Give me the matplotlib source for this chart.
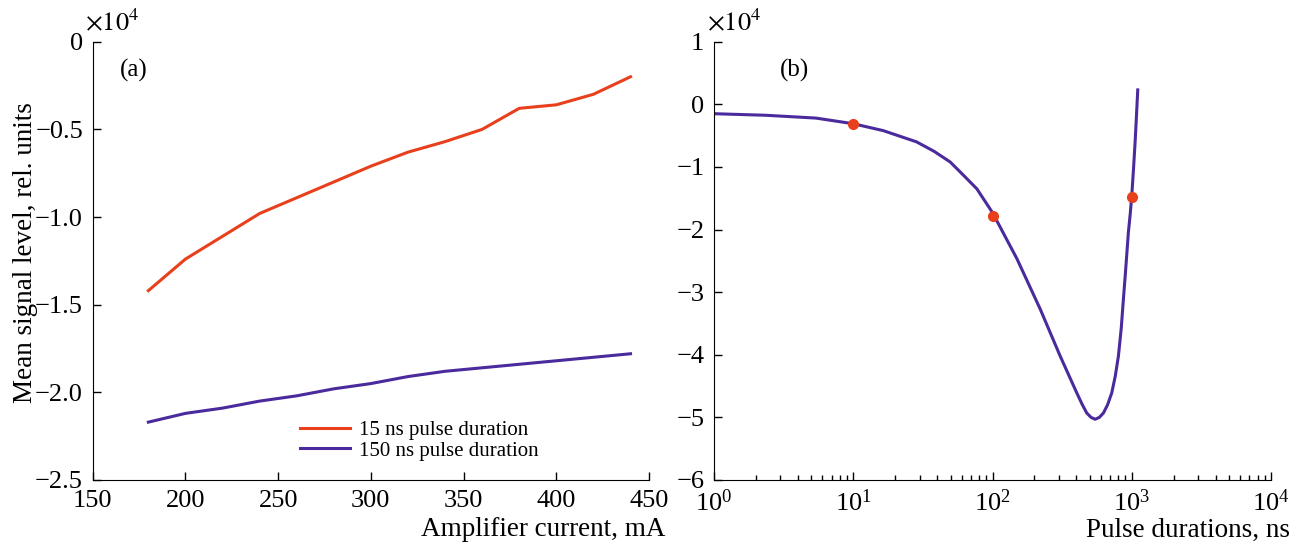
import matplotlib
matplotlib.use("Agg")
import matplotlib.pyplot as plt
from matplotlib.ticker import FuncFormatter, LogLocator

plt.rcParams['font.family'] = ['Liberation Serif', 'DejaVu Serif']
plt.rcParams['mathtext.fontset'] = 'stix'

# panel (a): mean signal level (x1e4) vs amplifier current
current_mA = [180, 200, 220, 240, 260, 280, 300, 320, 340, 360, 380, 400, 420, 440]
level_15ns = [-1.42, -1.24, -1.11, -0.98, -0.89, -0.80, -0.71, -0.63, -0.57, -0.50,
              -0.38, -0.36, -0.30, -0.20]
level_150ns = [-2.17, -2.12, -2.09, -2.05, -2.02, -1.98, -1.95, -1.91, -1.88, -1.86,
               -1.84, -1.82, -1.80, -1.78]

# panel (b): fitted curve and measured points (x1e4) vs pulse duration
fit_ns = [1, 2.36, 5.4, 10, 16.4, 28.5, 38, 49.6, 58.6, 77.2, 100, 150, 220, 306, 403,
          440, 475, 510, 546, 585, 626, 670, 718, 760, 802, 840, 871, 900, 946, 975,
          1000, 1030, 1057, 1080, 1104]
fit_level = [-0.15, -0.175, -0.22, -0.31, -0.42, -0.60, -0.75, -0.92, -1.08, -1.35,
             -1.73, -2.47, -3.27, -4.02, -4.61, -4.79, -4.93, -5.00, -5.03, -5.00,
             -4.93, -4.80, -4.61, -4.35, -4.02, -3.58, -3.11, -2.70, -2.04, -1.75,
             -1.46, -1.02, -0.60, -0.20, 0.23]
meas_ns = [10, 100, 1000]
meas_level = [-0.32, -1.78, -1.48]

orange = '#e8401c'
purple = '#4a2a9c'

fig = plt.figure(figsize=(13.02, 5.48), dpi=100)
ax1 = fig.add_axes([0.0712, 0.1241, 0.4273, 0.7998])
ax2 = fig.add_axes([0.5484, 0.1241, 0.4278, 0.7998])

for ax in (ax1, ax2):
    ax.spines['top'].set_visible(False)
    ax.spines['right'].set_visible(False)
    ax.tick_params(direction='in', length=5.5, width=1, labelsize=19, pad=7)
    ax.tick_params(which='minor', direction='in', length=3.6, width=1)

ax1.plot(current_mA, level_15ns, color=orange, lw=2.2, label='15 ns pulse duration')
ax1.plot(current_mA, level_150ns, color=purple, lw=2.2, label='150 ns pulse duration')
ax1.set_xlim(150, 450)
ax1.set_ylim(-2.5, 0)
ax1.set_xticks([150, 200, 250, 300, 350, 400, 450])
ax1.set_yticks([0, -0.5, -1.0, -1.5, -2.0, -2.5])
ax1.yaxis.set_major_formatter(FuncFormatter(
    lambda v, p: '0' if v == 0 else ('%.1f' % v).replace('-', '\u2212')))
ax1.set_ylabel('Mean signal level, rel. units', fontsize=19.5)
ax1.yaxis.set_label_coords(-0.099, 0.52)
ax1.text(1.029, -0.114, 'Amplifier current, mA', transform=ax1.transAxes,
         ha='right', va='center', fontsize=19.5)
ax1.text(0.049, 0.935, '(a)', transform=ax1.transAxes, fontsize=18, va='center')
ax1.text(-0.013, 1.027, r'$\times10^4$', transform=ax1.transAxes, fontsize=19, va='baseline')
ax1.legend(loc='center left', bbox_to_anchor=(0.373, 0.09), frameon=False, fontsize=15,
           handlelength=2.4, handletextpad=0.43, labelspacing=0.05,
           borderpad=0, borderaxespad=0)

ax2.plot(fit_ns, fit_level, color=purple, lw=2.2, zorder=2)
ax2.plot(meas_ns, meas_level, 'o', color=orange, ms=7, zorder=3)
ax2.set_xscale('log')
ax2.set_xlim(1, 1e4)
ax2.set_ylim(-6, 1)
ax2.set_yticks(range(-6, 2))
ax2.yaxis.set_major_formatter(FuncFormatter(lambda v, p: ('%d' % v).replace('-', '\u2212')))
ax2.xaxis.set_minor_locator(LogLocator(base=10, subs=range(2, 10), numticks=20))
ax2.text(1.034, -0.114, 'Pulse durations, ns', transform=ax2.transAxes,
         ha='right', va='center', fontsize=19.5)
ax2.text(0.118, 0.935, '(b)', transform=ax2.transAxes, fontsize=18, va='center')
ax2.text(-0.013, 1.027, r'$\times10^4$', transform=ax2.transAxes, fontsize=19, va='baseline')

fig.savefig('out.png', dpi=100)
